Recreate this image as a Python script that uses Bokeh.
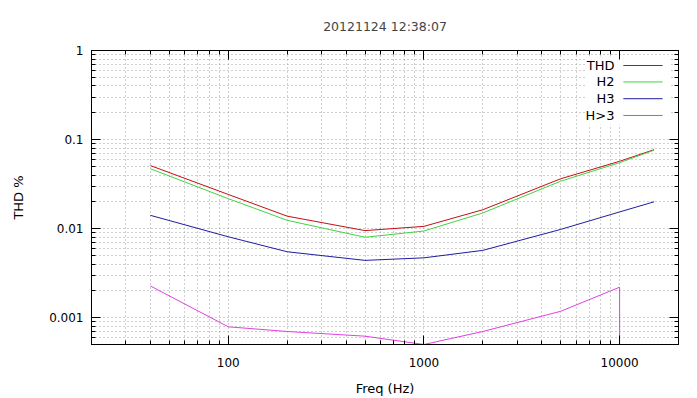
import math
from bokeh.plotting import figure
from bokeh.models import (FixedTicker, LogAxis, CustomJSTickFormatter, Label,
                          Arrow, BoxAnnotation, Range1d)
from bokeh.embed import file_html
from bokeh.resources import INLINE

# ---- data ----
freq = [40, 100, 200, 500, 1000, 2000, 5000, 10000, 15000]
thd = [0.051, 0.0242, 0.0138, 0.0095, 0.0106, 0.0163, 0.0363, 0.057, 0.077]
h2 = [0.047, 0.0217, 0.0124, 0.0080, 0.0094, 0.0150, 0.0341, 0.055, 0.076]
h3 = [0.0141, 0.0081, 0.0055, 0.0044, 0.0047, 0.0057, 0.0098, 0.0154, 0.020]
freq_h4 = [40, 100, 200, 500, 1000, 2000, 5000, 10000, 10000]
h4 = [0.00227, 0.00079, 0.00070, 0.00062, 0.0005, 0.00070, 0.00118, 0.0022, 0.00001]

x_major = [100, 1000, 10000]
x_minor = [20, 30, 40, 50, 60, 70, 80, 90, 200, 300, 400, 500, 600, 700, 800, 900,
           2000, 3000, 4000, 5000, 6000, 7000, 8000, 9000, 20000]
y_major = [0.001, 0.01, 0.1, 1]
y_minor = [0.0005, 0.0006, 0.0007, 0.0008, 0.0009,
           0.002, 0.003, 0.004, 0.005, 0.006, 0.007, 0.008, 0.009,
           0.02, 0.03, 0.04, 0.05, 0.06, 0.07, 0.08, 0.09,
           0.2, 0.3, 0.4, 0.5, 0.6, 0.7, 0.8, 0.9]

title_text = "20121124 12:38:07"
xlabel = "Freq (Hz)"
ylabel = "THD %"
names = ["THD", "H2", "H3", "H>3"]
colors = ["#c40f14", "#3fd43f", "#1e1e9c", "#e040e0"]

FONT = "DejaVu Sans"
X0, X1 = 20, 20000
Y0, Y1 = 0.0005, 1

p = figure(width=697, height=398, x_axis_type="log", y_axis_type="log",
           x_range=Range1d(X0, X1), y_range=Range1d(Y0, Y1),
           output_backend="svg", toolbar_location=None,
           min_border_left=91, min_border_right=19, min_border_top=50,
           min_border_bottom=53)

p.title.text = title_text
p.title.align = "center"
p.title.text_font = FONT
p.title.text_font_size = "12.5px"
p.title.text_font_style = "normal"
p.title.standoff = 33

xt = FixedTicker(ticks=x_major, minor_ticks=x_minor)
yt = FixedTicker(ticks=y_major, minor_ticks=y_minor)
fmt = CustomJSTickFormatter(code="return Number(tick.toPrecision(6)).toString();")
blank = CustomJSTickFormatter(code="return '';")

def style_axis(ax):
    ax.axis_line_color = "black"
    ax.major_tick_in = 9
    ax.major_tick_out = 0
    ax.minor_tick_in = 4
    ax.minor_tick_out = 0
    ax.major_tick_line_color = "black"
    ax.minor_tick_line_color = "black"
    ax.major_label_text_font = FONT
    ax.major_label_text_font_size = "12px"
    ax.major_label_text_color = "black"
    ax.axis_label_text_font = FONT
    ax.axis_label_text_font_size = "13px"
    ax.axis_label_text_font_style = "normal"
    ax.axis_label_text_color = "black"

p.xaxis.ticker = xt
p.yaxis.ticker = yt
p.xaxis.formatter = fmt
p.yaxis.formatter = fmt
style_axis(p.xaxis[0])
style_axis(p.yaxis[0])
p.xaxis.axis_label = xlabel
p.yaxis.axis_label = ylabel
p.xaxis.major_label_standoff = 13
p.xaxis.axis_label_standoff = 11
p.yaxis.major_label_standoff = 8
p.yaxis.axis_label_standoff = 20

top = LogAxis(ticker=xt, formatter=blank, major_label_standoff=0)
right = LogAxis(ticker=yt, formatter=blank, major_label_standoff=0)
style_axis(top)
style_axis(right)
p.add_layout(top, "above")
p.add_layout(right, "right")

for g in (p.xgrid[0], p.ygrid[0]):
    g.grid_line_color = "#a0a0a0"
    g.grid_line_dash = "1 3"
    g.grid_line_width = 1
    g.minor_grid_line_color = "#a0a0a0"
    g.minor_grid_line_dash = "1 3"
    g.minor_grid_line_width = 1
p.xgrid.ticker = xt
p.ygrid.ticker = yt

p.outline_line_color = "black"
p.background_fill_color = "white"
p.border_fill_color = "white"

renderers = []
for xs, ys, c in ((freq, thd, colors[0]), (freq, h2, colors[1]),
                  (freq, h3, colors[2]), (freq_h4, h4, colors[3])):
    renderers.append(p.line(xs, ys, line_color=c, line_width=1))

# ---- gnuplot-style key (label right-aligned, sample line to the right) ----
def fx(f):
    return 10 ** (math.log10(X0) + f * (math.log10(X1) - math.log10(X0)))

def fy(f):  # f measured from the top of the frame
    return 10 ** (math.log10(Y1) - f * (math.log10(Y1) - math.log10(Y0)))

box = BoxAnnotation(left=fx(0.842), right=fx(0.985), top=fy(0.02), bottom=fy(0.252),
                    fill_color="white", fill_alpha=1, line_color=None, level="underlay")
p.add_layout(box)

row_f = [0.051, 0.107, 0.164, 0.221]
for name, c, rf in zip(names, colors, row_f):
    p.add_layout(Label(x=fx(0.891), y=fy(rf), text=name, text_align="right",
                       text_baseline="middle", text_font=FONT,
                       text_font_size="13px", text_color="black"))
    p.add_layout(Arrow(x_start=fx(0.906), x_end=fx(0.973), y_start=fy(rf), y_end=fy(rf),
                       start=None, end=None, line_color=c, line_width=1))

open("out.html", "w").write(file_html(p, INLINE))
